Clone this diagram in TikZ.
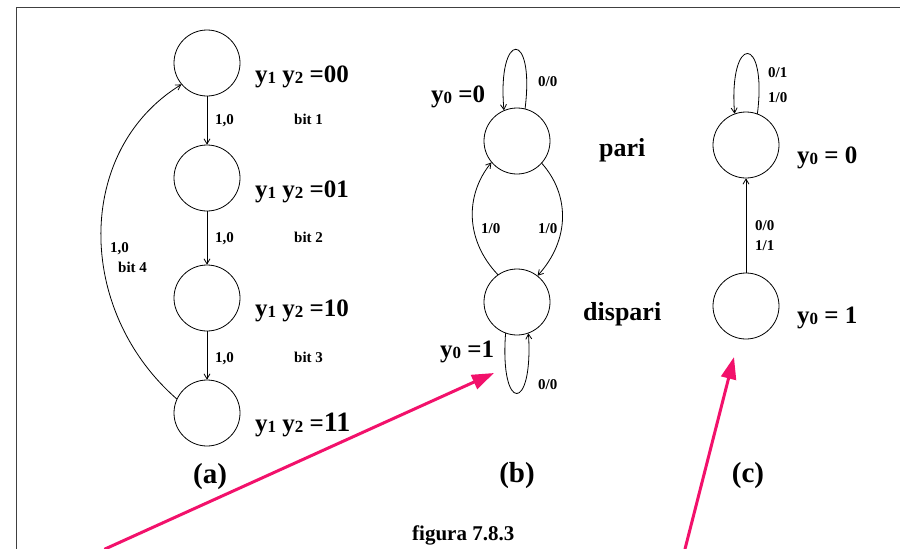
\documentclass[tikz,border=0pt]{standalone}
\usepackage{fontspec}
\setmainfont{Liberation Serif}
\usetikzlibrary{arrows.meta}
\definecolor{fsmInk}{HTML}{000000}
\definecolor{fsmFrame}{HTML}{404040}
\definecolor{fsmPointer}{HTML}{F2116B}
\newcommand{\yidx}[1]{y{\fontsize{17}{17}\selectfont\raisebox{-1pt}{#1}}}
\tikzset{
  fsm diagram/.style={x=1pt, y=-1pt, line cap=round, line join=round, text=fsmInk},
  fsm state/.style={draw, circle, minimum size=66pt, inner sep=0pt, line width=0.8pt},
  fsm arrow/.style={-{Straight Barb[length=5pt,width=6pt]}, line width=0.8pt},
  fsm big/.style={font=\fontsize{25}{27}\selectfont\bfseries, anchor=base west, inner sep=0pt},
  fsm word/.style={fsm big, font=\fontsize{26}{28}\selectfont\bfseries},
  fsm small/.style={font=\fontsize{15}{17}\selectfont\bfseries, anchor=base west, inner sep=0pt},
  fsm title/.style={fsm small, font=\fontsize{21}{23}\selectfont\bfseries},
  fsm caption/.style={font=\fontsize{29}{31}\selectfont\bfseries, anchor=base, inner sep=0pt},
  fsm pointer/.style={-{Triangle[length=22pt,width=15pt]}, draw=fsmPointer, line width=3pt},
  fsm frame/.style={draw=fsmFrame, line width=1pt}
}
\begin{document}
\begin{tikzpicture}[fsm diagram]
\useasboundingbox (0,0) rectangle (900,549);
\draw[fsm frame] (16,549) -- (16,7) -- (900,7);

\foreach \n/\y in {0/63,1/178,2/298,3/413}
  \node[fsm state] (a\n) at (207,\y) {};
\foreach \i/\j in {0/1,1/2,2/3}
  \draw[fsm arrow] (a\i) -- (a\j);
\draw[fsm arrow] (a3.155) .. controls (75,310) and (75,150) .. (a0.220);
\node[fsm big] (ca0) at (255,82) {\yidx{1} \yidx{2} =00};
\node[fsm big] (ca1) at (255,197) {\yidx{1} \yidx{2} =01};
\node[fsm big] (ca2) at (255,316) {\yidx{1} \yidx{2} =10};
\node[fsm big] (ca3) at (255,431) {\yidx{1} \yidx{2} ={\fontsize{28}{30}\selectfont 11}};
\foreach \k/\y in {1/124,2/242,3/362}{
  \node[fsm small] (ea\k) at (215,\y) {1,0};
  \node[fsm small] (ba\k) at (294,\y) {bit \k};
}
\node[fsm small] (ea4) at (110,252) {1,0};
\node[fsm small] (ba4) at (118,272) {bit 4};
\node[fsm caption] (capa) at (210,483) {(a)};

\node[fsm state] (pari) at (517,141) {};
\node[fsm state] (disp) at (517,302) {};
\draw[fsm arrow] (pari.76) .. controls +(10,-80) and +(-7,-80) .. (pari.113);
\draw[fsm arrow] (disp.125) .. controls (465,240) and (465,195) .. (pari.220);
\draw[fsm arrow] (pari.318) .. controls (570,195) and (570,240) .. (disp.52);
\draw[fsm arrow] (disp.250) .. controls +(-6,80) and +(5,80) .. (disp.290);
\node[fsm big] (yb0) at (431,102) {\yidx{0} =0};
\node[fsm small] (lb0) at (538,86) {0/0};
\node[fsm word] (npari) at (599,156) {pari};
\node[fsm small] (lb1) at (481,233) {1/0};
\node[fsm small] (lb2) at (538,233) {1/0};
\node[fsm word] (ndisp) at (583,320) {dispari};
\node[fsm big] (yb1) at (440,357) {\yidx{0} =1};
\node[fsm small] (lb3) at (538,389) {0/0};
\node[fsm caption] (capb) at (517,482) {(b)};

\node[fsm state] (c0) at (746,145) {};
\node[fsm state] (c1) at (746,306) {};
\draw[fsm arrow] (c1) -- (c0);
\draw[fsm arrow] (c0.70) .. controls +(10,-80) and +(-6,-80) .. (c0.110);
\node[fsm small] (lc0) at (768,77) {0/1};
\node[fsm small] (lc1) at (768,102) {1/0};
\node[fsm small] (lc2) at (755,230) {0/0};
\node[fsm small] (lc3) at (755,250) {1/1};
\node[fsm big] (yc0) at (797,163) {\yidx{0} = 0};
\node[fsm big] (yc1) at (797,323) {\yidx{0} = 1};
\node[fsm caption] (capc) at (748,482) {(c)};

\node[fsm title] (fig) at (412,540) {figura 7.8.3};

\coordinate (p1s) at (105,549);
\coordinate (p1e) at (494,373);
\coordinate (p2s) at (685,549);
\coordinate (p2e) at (734,357);
\draw[fsm pointer] (p1s) -- (p1e);
\draw[fsm pointer] (p2s) -- (p2e);
\end{tikzpicture}
\end{document}
